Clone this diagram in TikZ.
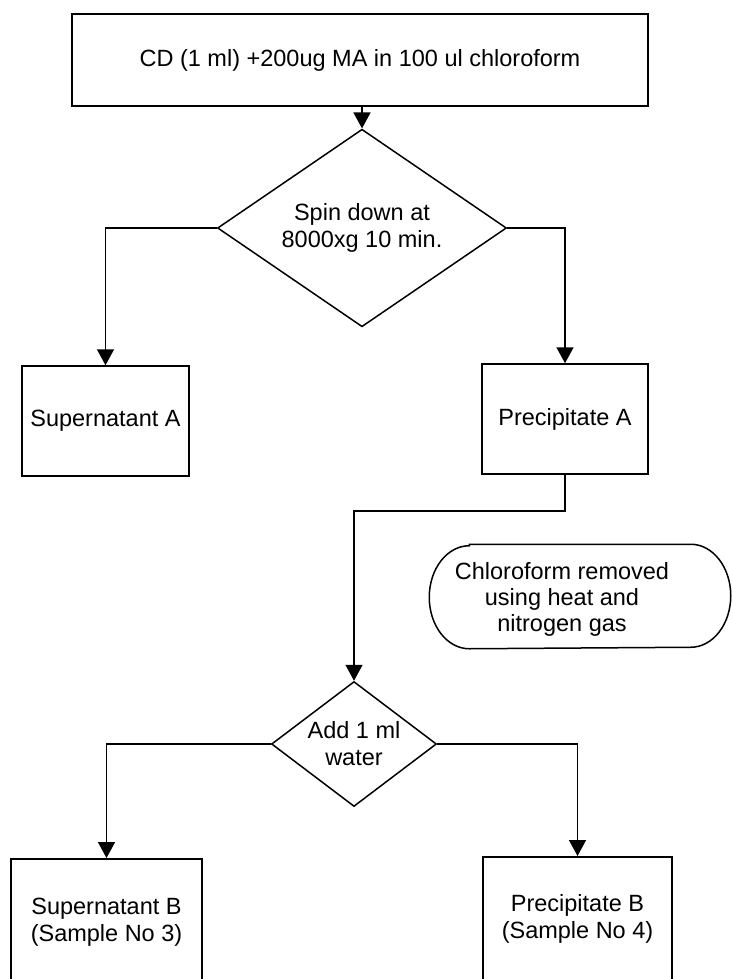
\documentclass[tikz,border=0pt]{standalone}
\usepackage{fontspec}
\setmainfont{Liberation Sans}
\usetikzlibrary{shapes.geometric,arrows.meta}

\begin{document}
\begin{tikzpicture}[x=1pt,y=-1pt,line width=1.5pt,
  >={Triangle[length=16pt,width=17pt]},
  every node/.style={font=\fontsize{23.5}{27}\selectfont,align=center},
  box/.style={draw,rectangle,inner sep=0pt},
  choice/.style={draw,diamond,inner sep=-3pt},
  flow/.style={->}]
\useasboundingbox (0,0) rectangle (732,979);
\clip (0,0) rectangle (732,979);

\node[box,minimum width=576,minimum height=92] (start) at (360,60) {CD (1 ml) +200ug MA in 100 ul chloroform};
\node[choice,minimum width=289,minimum height=143] (spin) at (362,228) {Spin down at\\8000xg 10 min.};

\node[box,minimum width=167,minimum height=110] (supA) at (105.5,421) {Supernatant A};
\node[box,minimum width=166,minimum height=110] (precA) at (565,419) {Precipitate A};

% drying step, flat oval ends, text sits left of centre
\node[minimum width=300,minimum height=103,inner sep=0pt] (dry) at (580,596.5) {};
\draw ([xshift=40]dry.north west) -- ([xshift=-40]dry.north east)
  arc[start angle=-90,end angle=90,x radius=40,y radius=51.5]
  -- ([xshift=40]dry.south west)
  arc[start angle=90,end angle=270,x radius=40,y radius=51.5] -- cycle;
\node[font=\fontsize{23.5}{26}\selectfont] (drytext) at (562,599) {Chloroform removed\\using heat and\\nitrogen gas};

\node[choice,minimum width=165,minimum height=108] (water) at (354,744) {Add 1 ml\\water};

% bottom boxes run off the page
\node[box,anchor=north,minimum width=191,minimum height=126] (supB) at (106.5,858) {Supernatant B\\(Sample No 3)};
\node[box,anchor=north,minimum width=189,minimum height=124] (precB) at (577.5,856) {Precipitate B\\(Sample No 4)};

\draw[flow] (spin.north |- start.south) -- (spin.north);
\draw[flow] (spin.west) -| (supA.north);
\draw[flow] (spin.east) -| (precA.north);
\draw[flow] (precA.south) -- ++(0,36) -| (water.north);
\draw[flow] (water.west) -| (supB.north);
\draw[flow] (water.east) -| (precB.north);
\end{tikzpicture}
\end{document}
